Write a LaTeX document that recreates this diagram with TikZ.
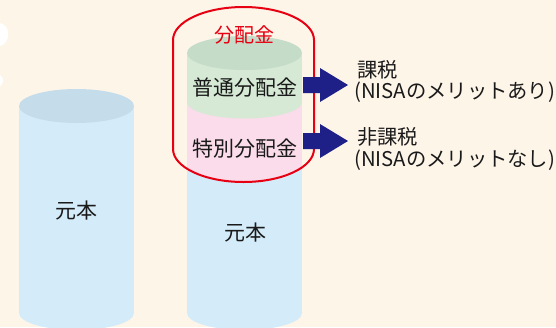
\documentclass[tikz,border=0pt]{standalone}
\usepackage{fontspec}
\setmainfont{Noto Sans CJK JP}
\definecolor{bg}{HTML}{FEF5E9}
\definecolor{bodyblue}{HTML}{D4ECF9}
\definecolor{topblue}{HTML}{C5DDEB}
\definecolor{bodygreen}{HTML}{D5E9D5}
\definecolor{topgreen}{HTML}{C5DCC8}
\definecolor{bodypink}{HTML}{FADCEA}
\definecolor{outlinered}{HTML}{E60012}
\definecolor{navy}{HTML}{1E2088}
\definecolor{ink}{HTML}{1A1A1A}
\tikzset{
  cyllabel/.style={inner sep=0pt, text=ink, font=\fontsize{21}{25}\selectfont},
  redlabel/.style={inner sep=0pt, text=outlinered, font=\fontsize{20}{24}\selectfont},
  sidelabel/.style={inner sep=0pt, anchor=west, text=ink, font=\fontsize{20.3}{24}\selectfont},
  blockarrow/.style={fill=navy},
}
\begin{document}
\begin{tikzpicture}[x=1pt,y=-1pt]
\useasboundingbox (0,0) rectangle (556,327);
\fill[bg] (0,0) rectangle (556,327);
% white blobs at left edge
\fill[white] (0,23) .. controls (11,25) and (11,43) .. (0,46) -- cycle;
\fill[white] (0,75) .. controls (4,77) and (4,84) .. (0,86) -- cycle;

% left cylinder
\fill[bodyblue] (19,106) rectangle (134,313);
\fill[bodyblue] (76.5,313) ellipse[x radius=57.5, y radius=17];
\fill[topblue] (76.5,106) ellipse[x radius=57.5, y radius=17];
\node[cyllabel] (genpon1) at (76.5,211) {元本};

% right cylinder
\fill[bodyblue] (187,160) rectangle (302,313);
\fill[bodyblue] (244.5,313) ellipse[x radius=57.5, y radius=17];
\fill[bodypink] (187,102) rectangle (302,164);
\fill[bodypink] (244.5,164) ellipse[x radius=57.5, y radius=17];
\fill[bodygreen] (187,53) rectangle (302,102);
\fill[bodygreen] (244.5,102) ellipse[x radius=57.5, y radius=16.5];
\fill[topgreen] (244.5,53) ellipse[x radius=57.5, y radius=17];
\node[cyllabel] (genpon2) at (245,233) {元本};
\node[cyllabel] (futsu) at (245,88) {普通分配金};
\node[cyllabel] (tokubetsu) at (245,149) {特別分配金};

% red outline
\draw[outlinered, line width=2pt]
  (173,40) .. controls (173,21.8) and (204.6,7) .. (243.5,7)
  .. controls (282.4,7) and (314,21.8) .. (314,40)
  -- (314,149) .. controls (314,167.2) and (282.4,182) .. (243.5,182)
  .. controls (204.6,182) and (173,167.2) .. (173,149) -- cycle;
\node[redlabel] (haitokin) at (244,35) {分配金};

% block arrows
\fill[blockarrow] (303,77) -- (320,77) -- (320,68) -- (348,85) -- (320,102) -- (320,93) -- (303,93) -- cycle;
\fill[blockarrow] (303,133) -- (320,133) -- (320,124) -- (348,141) -- (320,158) -- (320,149) -- (303,149) -- cycle;

% side labels
\node[sidelabel] (kazei) at (357,70) {課税};
\node[sidelabel] (kazeisub) at (354,92) {(NISAのメリットあり)};
\node[sidelabel] (hikazei) at (357,137) {非課税};
\node[sidelabel] (hikazeisub) at (354,160) {(NISAのメリットなし)};
\end{tikzpicture}
\end{document}
